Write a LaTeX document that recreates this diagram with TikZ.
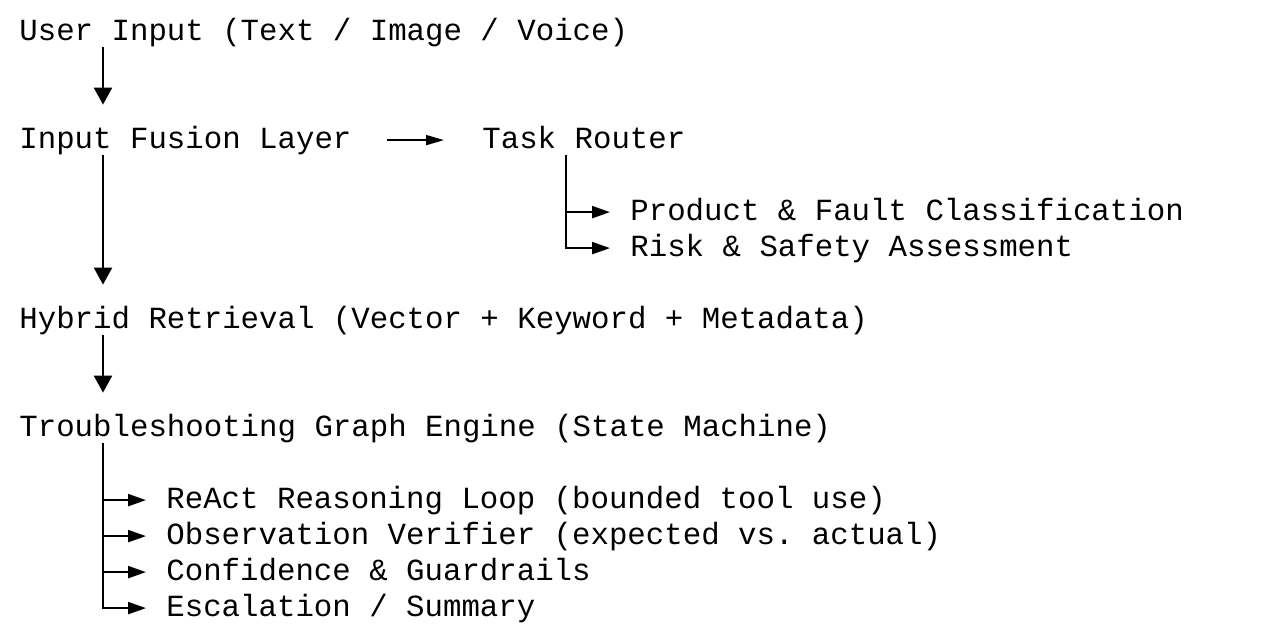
\documentclass[tikz,border=0pt]{standalone}
\usepackage{fontspec}
\setmonofont{Liberation Mono}
\usetikzlibrary{arrows.meta}
\frenchspacing

\begin{document}
\begin{tikzpicture}[x=0.5pt, y=-0.5pt,
    every node/.style={anchor=base west, inner sep=0pt, text height=11.2pt, text depth=3.3pt,
        font=\ttfamily\fontsize{15.37}{18}\selectfont},
    flow/.style={line width=1.2pt, -{Triangle[length=8.5pt, width=9pt, sep=3.5pt]}, shorten >=6.8pt},
    hflow/.style={line width=0.9pt, -{Triangle[length=9pt, width=5pt]}, shorten <=17.5pt, shorten >=19pt},
    branch/.style={line width=1.2pt, -{Triangle[length=9pt, width=6pt]}, shorten >=10pt}]
    \fill[white] (0,0) rectangle (1266,628);
    % main column
    \node  (0) at (19, 40) {User Input (Text / Image / Voice)};
    \node  (1) at (19, 148) {Input Fusion Layer};
    \node  (5) at (19, 328) {Hybrid Retrieval (Vector + Keyword + Metadata)};
    \node  (6) at (19, 436) {Troubleshooting Graph Engine (State Machine)};
    \coordinate (a) at (103, 0); % spine
    \draw [flow] (a |- 0.south) to (a |- 1.north);
    \draw [flow] (a |- 1.south) to (a |- 5.north);
    \draw [flow] (a |- 5.south) to (a |- 6.north);
    % task router
    \node  (2) at (482, 148) {Task Router};
    \node  (3) at (630, 220) {Product \& Fault Classification};
    \node  (4) at (630, 256) {Risk \& Safety Assessment};
    \coordinate (b) at (566, 0); % spine
    \draw [hflow] (1.east) to (1.east -| 2.west);
    \draw [branch] (b |- 2.south) |- (4.west);
    \draw [branch] (b |- 3.west) to (3.west);
    % graph engine steps
    \node  (7) at (166, 508) {ReAct Reasoning Loop (bounded tool use)};
    \node  (8) at (166, 544) {Observation Verifier (expected vs. actual)};
    \node  (9) at (166, 580) {Confidence \& Guardrails};
    \node  (10) at (166, 616) {Escalation / Summary};
    \draw [branch] (a |- 6.south) |- (10.west);
    \draw [branch] (a |- 7.west) to (7.west);
    \draw [branch] (a |- 8.west) to (8.west);
    \draw [branch] (a |- 9.west) to (9.west);
\end{tikzpicture}
\end{document}
